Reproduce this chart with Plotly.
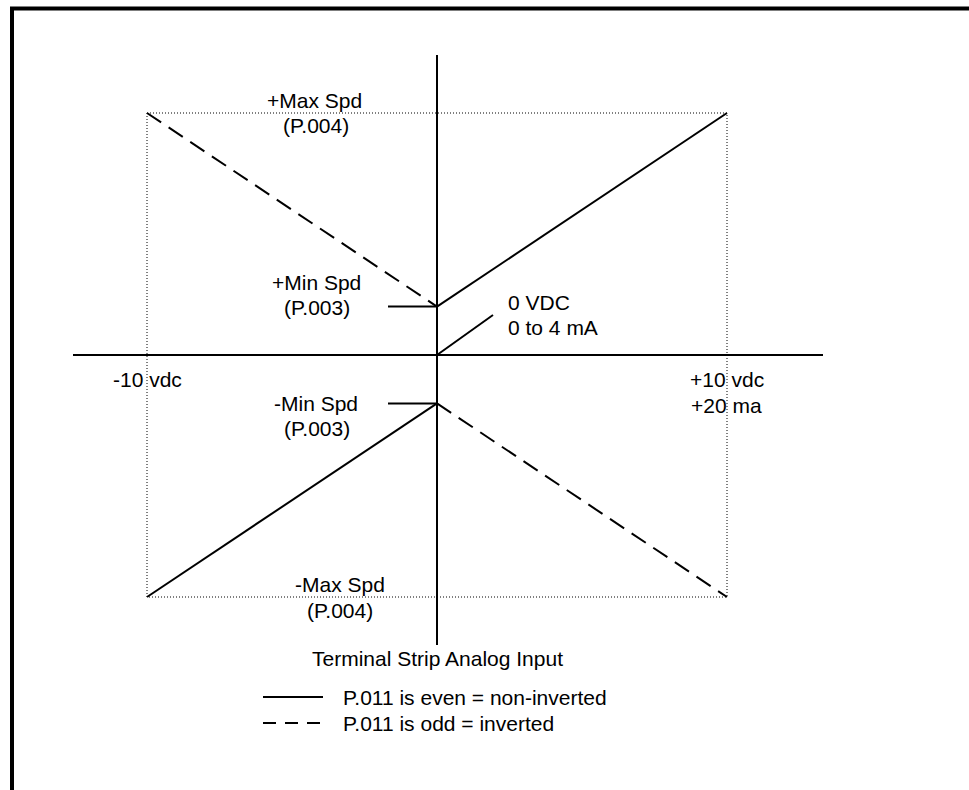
import plotly.graph_objects as go

# ---- data ----
input_vdc = [-10, 0, 10]          # terminal strip analog input (vdc)
min_spd = 20                       # P.003 level
max_spd = 100                      # P.004 level
noninv_pos_y = [min_spd, max_spd]
noninv_neg_y = [-max_spd, -min_spd]
inv_pos_y = [max_spd, min_spd]
inv_neg_y = [-min_spd, -max_spd]
legend_labels = ["P.011 is even = non-inverted", "P.011 is odd = inverted"]

W, H = 969, 790
x0_px, y0_px = 437, 355
sx, sy = 29.0, 2.42
xr = [(0 - x0_px) / sx, (W - x0_px) / sx]
yr = [(y0_px - H) / sy, (y0_px - 0) / sy]

def px_x(p):
    return (p - x0_px) / sx

def px_y(p):
    return (y0_px - p) / sy

FONT = dict(family="Liberation Sans, Arial, sans-serif", size=21, color="black")
fig = go.Figure()

def line(x, y, width=2, dash=None, color="black"):
    fig.add_trace(go.Scatter(x=x, y=y, mode="lines", showlegend=False, hoverinfo="skip",
                             line=dict(color=color, width=width, dash=dash)))

# dotted bounding box
line([input_vdc[0], input_vdc[2], input_vdc[2], input_vdc[0], input_vdc[0]],
     [max_spd, max_spd, -max_spd, -max_spd, max_spd], width=1, dash="1px,2px", color="black")

# axes
line([px_x(73), px_x(823)], [0, 0], width=2)
line([0, 0], [px_y(55), px_y(645)], width=2)

# non-inverted (solid)
line(input_vdc[1:], noninv_pos_y, width=2)
line(input_vdc[:2], noninv_neg_y, width=2)
# inverted (dashed)
line(input_vdc[:2], inv_pos_y, width=2, dash="17px,9px")
line(input_vdc[1:], inv_neg_y, width=2, dash="17px,9px")

# leader lines
line([px_x(388), 0], [min_spd, min_spd], width=2)
line([px_x(388), 0], [-min_spd, -min_spd], width=2)
line([0, px_x(493)], [0, px_y(315)], width=2)

# legend samples
line([px_x(263), px_x(323)], [px_y(697), px_y(697)], width=2)
line([px_x(263), px_x(323)], [px_y(723), px_y(723)], width=2, dash="13px,9px")

texts = [
    ("+Max Spd", 314, 100, "center"),
    ("(P.004)", 316, 125, "center"),
    ("+Min Spd", 316, 282, "center"),
    ("(P.003)", 317, 307, "center"),
    ("0 VDC", 506, 302, "left"),
    ("0 to 4 mA", 506, 327, "left"),
    ("-10 vdc", 147, 379, "center"),
    ("+10 vdc", 727, 379, "center"),
    ("+20 ma", 726, 405, "center"),
    ("-Min Spd", 316, 403, "center"),
    ("(P.003)", 317, 428, "center"),
    ("-Max Spd", 340, 584, "center"),
    ("(P.004)", 340, 610, "center"),
    ("Terminal Strip Analog Input", 437, 658, "center"),
    (legend_labels[0], 341, 697, "left"),
    (legend_labels[1], 341, 723, "left"),
]
for t, px, py, anchor in texts:
    fig.add_annotation(x=px_x(px), y=px_y(py), text=t, showarrow=False,
                       xanchor=anchor, yanchor="middle", font=FONT)

# outer frame (top and left thick edges)
fig.add_shape(type="line", xref="paper", yref="paper",
              x0=10 / W, x1=1, y0=1 - 8.5 / H, y1=1 - 8.5 / H,
              line=dict(color="black", width=4))
fig.add_shape(type="line", xref="paper", yref="paper",
              x0=12 / W, x1=12 / W, y0=0, y1=1 - 7 / H,
              line=dict(color="black", width=4))

fig.update_layout(
    width=W, height=H, margin=dict(l=0, r=0, t=0, b=0),
    paper_bgcolor="white", plot_bgcolor="white", showlegend=False,
    xaxis=dict(range=xr, visible=False, fixedrange=True),
    yaxis=dict(range=yr, visible=False, fixedrange=True),
)
fig.write_html("out.html", config={"displayModeBar": False},
               post_script="document.body.style.margin='0';document.body.style.overflow='hidden';")
